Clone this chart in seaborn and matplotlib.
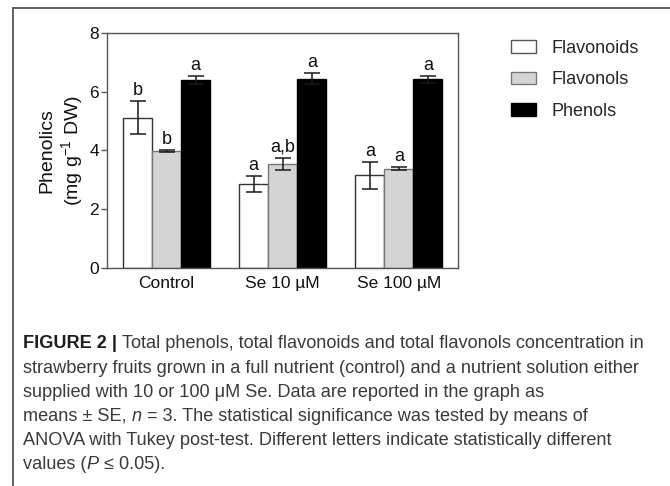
import matplotlib
matplotlib.use("Agg")
import matplotlib.pyplot as plt
from matplotlib.lines import Line2D
from matplotlib.patches import Patch
from matplotlib import font_manager
import seaborn as sns
import pandas as pd

# data
treatments = ["Control", "Se 10 µM", "Se 100 µM"]
compounds = ["Flavonoids", "Flavonols", "Phenols"]
flavonoids_mean = [5.12, 2.86, 3.15]
flavonoids_se = [0.55, 0.28, 0.45]
flavonols_mean = [3.98, 3.54, 3.37]
flavonols_se = [0.03, 0.21, 0.05]
phenols_mean = [6.40, 6.45, 6.42]
phenols_se = [0.12, 0.20, 0.13]
flavonoids_letters = ["b", "a", "a"]
flavonols_letters = ["b", "a,b", "a"]
phenols_letters = ["a", "a", "a"]

colors = {"Flavonoids": "#ffffff", "Flavonols": "#d4d4d4", "Phenols": "#000000"}
edges = {"Flavonoids": "#333333", "Flavonols": "#777777", "Phenols": "#000000"}

caption_lines = [
    [("FIGURE 2 |", "bold"), (" Total phenols, total flavonoids and total flavonols concentration in", "normal")],
    [("strawberry fruits grown in a full nutrient (control) and a nutrient solution either", "normal")],
    [("supplied with 10 or 100 μM Se. Data are reported in the graph as", "normal")],
    [("means ± SE,", "normal"), (" n", "italic"), (" = 3. The statistical significance was tested by means of", "normal")],
    [("ANOVA with Tukey post-test. Different letters indicate statistically different", "normal")],
    [("values (", "normal"), ("P", "italic"), (" ≤ 0.05).", "normal")],
]

sns.set_style("white")
plt.rcParams["font.family"] = ["Liberation Sans", "DejaVu Sans"]
plt.rcParams["mathtext.default"] = "regular"

df = pd.DataFrame({
    "treatment": treatments * 3,
    "compound": [c for c in compounds for _ in treatments],
    "value": flavonoids_mean + flavonols_mean + phenols_mean,
})
se_all = [flavonoids_se, flavonols_se, phenols_se]
letters_all = [flavonoids_letters, flavonols_letters, phenols_letters]

fig = plt.figure(figsize=(6.7, 4.86), dpi=100)
ax = fig.add_axes([0.16, 0.449, 0.524, 0.483])

sns.barplot(data=df, x="treatment", y="value", hue="compound",
            order=treatments, hue_order=compounds, palette=colors,
            width=0.75, errorbar=None, legend=False, linewidth=1.0,
            saturation=1, ax=ax)

for cont, comp, se, lets in zip(ax.containers, compounds, se_all, letters_all):
    xs, ys = [], []
    for bar in cont:
        bar.set_edgecolor(edges[comp])
        xs.append(bar.get_x() + bar.get_width() / 2)
        ys.append(bar.get_height())
    ax.errorbar(xs, ys, yerr=se, fmt="none", ecolor="#1a1a1a",
                elinewidth=1.1, capsize=6, capthick=1.1, zorder=3)
    for x, y, s, lab in zip(xs, ys, se, lets):
        ax.annotate(lab, (x, y + s), xytext=(0, 1.5), textcoords="offset points",
                    ha="center", va="bottom", fontsize=13, color="#111111")

ax.set_ylim(0, 8)
ax.set_yticks([0, 2, 4, 6, 8])
ax.set_xlabel("")
ax.set_ylabel("Phenolics\n(mg g$^{-1}$ DW)", fontsize=14, linespacing=1.2,
              labelpad=3, color="#111111")
for sp in ax.spines.values():
    sp.set_visible(True)
    sp.set_color("#555555")
    sp.set_linewidth(1.0)
ax.tick_params(axis="y", length=4.5, width=1.0, color="#555555", pad=1.5,
               labelsize=12.5, labelcolor="#111111", left=True)
ax.tick_params(axis="x", length=0, pad=6, labelsize=12.5, labelcolor="#111111")

handles = [Patch(facecolor=colors[c], edgecolor=edges[c] if c != "Flavonoids" else "#555555",
                 linewidth=1.0, label=c) for c in compounds]
fig.legend(handles=handles, loc="upper left", bbox_to_anchor=(0.762, 0.918),
           frameon=False, fontsize=13, handlelength=1.4, handleheight=0.72,
           handletextpad=0.85, labelspacing=0.8, borderpad=0, borderaxespad=0)

# outer panel frame (top and left edges only)
fig.add_artist(Line2D([13 / 670, 1], [1 - 8 / 486, 1 - 8 / 486], color="#555555", lw=1.3))
fig.add_artist(Line2D([13 / 670, 13 / 670], [0, 1 - 8 / 486], color="#555555", lw=1.3))

# caption, drawn piece by piece
names = {f.name for f in font_manager.fontManager.ttflist}
cap_font = "Liberation Sans Narrow" if "Liberation Sans Narrow" in names else "Liberation Sans"
renderer = fig.canvas.get_renderer()
W = fig.bbox.width


def piece_width(txt, size, style):
    t = fig.text(0, 0, txt, fontsize=size, family=[cap_font, "DejaVu Sans"],
                 fontweight="bold" if style == "bold" else "normal",
                 fontstyle="italic" if style == "italic" else "normal")
    w = t.get_window_extent(renderer).width
    t.remove()
    return w


# fit the first line to its width in the figure
target = 624
test = sum(piece_width(p.strip(), 10, s) for p, s in caption_lines[0]) + piece_width("x x", 10, "normal") - piece_width("xx", 10, "normal")
cap_size = 10 * target / test

space = piece_width("x x", cap_size, "normal") - piece_width("xx", cap_size, "normal")
y_px = [344, 368, 392, 416, 440, 464]
for line, yp in zip(caption_lines, y_px):
    x = 23
    for txt, style in line:
        if txt.startswith(" "):
            x += space
        body = txt.strip()
        fig.text(x / W, 1 - yp / 486, body, fontsize=cap_size,
                 family=[cap_font, "DejaVu Sans"],
                 fontweight="bold" if style == "bold" else "normal",
                 fontstyle="italic" if style == "italic" else "normal",
                 color="#1e1e1e" if style == "bold" else "#3a3a3a",
                 va="center", ha="left")
        x += piece_width(body, cap_size, style)
        if txt.endswith(" "):
            x += space

fig.savefig("out.png", dpi=100)
